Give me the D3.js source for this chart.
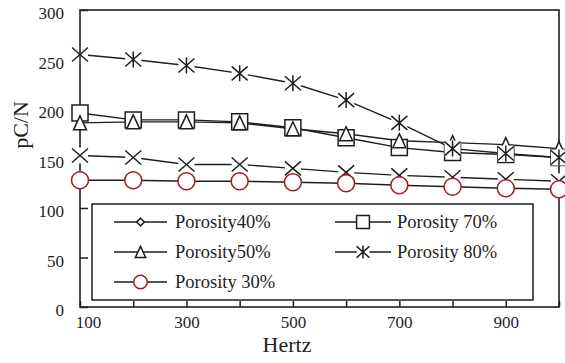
<!DOCTYPE html>
<html>
<head>
<meta charset="utf-8">
<script src="https://cdn.jsdelivr.net/npm/d3@7"></script>
<style>
  html, body { margin: 0; padding: 0; background: #fff; }
  svg { display: block; }
  svg text { font-family: "Liberation Serif", "Times New Roman", serif; }
</style>
</head>
<body>
<svg id="chart"></svg>
<script>
// data
const hertz = [100, 200, 300, 400, 500, 600, 700, 800, 900, 1000];
const porosity40 = [153, 151, 144, 144, 140, 136, 133, 131, 129, 127];
const porosity50 = [186, 187, 187, 186, 180, 175, 168, 166, 164, 160];
const porosity30 = [128, 128, 127, 127, 126, 125, 123, 121.5, 120, 119];
const porosity70 = [196, 189, 189, 187, 181, 171, 161, 156, 154, 151];
const porosity80 = [255, 250, 244, 236, 226, 209, 186, 160, 155, 151];
const xTickLabels = [100, 300, 500, 700, 900];
const yTickValues = [0, 50, 100, 150, 200, 250, 300];

const ink = "#1e1e1e";
const red = "#a31c1e";
const serif = "'Liberation Serif', 'Times New Roman', serif";

let svg = d3.select("#chart").attr("width", 565).attr("height", 363);

let x = d3.scaleLinear().domain([100, 1000]).range([80, 559]);
let y = d3.scaleLinear().domain([0, 300]).range([307, 10]);

// marker shapes, s = scale
function markerPath(kind, s) {
    let p = d3.path();
    if (kind == "x" || kind == "asterisk") {
        let w = 8 * s, h = 7 * s;
        p.moveTo(-w, -h); p.lineTo(w, h);
        p.moveTo(-w, h); p.lineTo(w, -h);
        if (kind == "asterisk") { p.moveTo(0, -8 * s); p.lineTo(0, 8 * s); }
    } else if (kind == "square") {
        let h = 8 * s;
        p.rect(-h, -h, 2 * h, 2 * h);
    } else if (kind == "triangle") {
        let w = 6.5 * s, h = 7 * s;
        p.moveTo(0, -h); p.lineTo(w, h); p.lineTo(-w, h); p.closePath();
    } else if (kind == "diamond") {
        let h = 4.8 * s;
        p.moveTo(0, -h); p.lineTo(h, 0); p.lineTo(0, h); p.lineTo(-h, 0); p.closePath();
    } else if (kind == "circle") {
        p.arc(0, 0, 8.5 * s, 0, 2 * Math.PI);
    }
    return p.toString();
}

function drawMarker(g, kind, cx, cy, s, color) {
    let m = g.append("g").attr("transform", "translate(" + cx + "," + cy + ")");
    if (kind == "x" || kind == "asterisk") {
        // white backing behind open markers
        m.append("rect")
            .attr("x", -8 * s).attr("y", -8 * s)
            .attr("width", 16 * s).attr("height", 16 * s)
            .attr("fill", "#fff");
    }
    m.append("path")
        .attr("d", markerPath(kind, s))
        .attr("fill", (kind == "x" || kind == "asterisk") ? "none" : "#fff")
        .attr("stroke", color)
        .attr("stroke-width", 1.5);
}

let series = [
    {name: "Porosity40%", values: porosity40, marker: "x", legendMarker: "diamond", color: ink},
    {name: "Porosity 70%", values: porosity70, marker: "square", legendMarker: "square", color: ink},
    {name: "Porosity50%", values: porosity50, marker: "triangle", legendMarker: "triangle", color: ink},
    {name: "Porosity 80%", values: porosity80, marker: "asterisk", legendMarker: "asterisk", color: ink},
    {name: "Porosity 30%", values: porosity30, marker: "circle", legendMarker: "circle", color: red}
];

// axes
let yAxis = d3.axisLeft(y)
    .tickValues(yTickValues)
    .tickSizeInner(-8)
    .tickSizeOuter(0)
    .tickPadding(16);
let gy = svg.append("g").attr("transform", "translate(80,0)").call(yAxis);

let xAxis = d3.axisBottom(x)
    .tickValues(hertz)
    .tickSizeInner(-6)
    .tickSizeOuter(0)
    .tickPadding(9)
    .tickFormat(d => xTickLabels.includes(d) ? d : "");
let gx = svg.append("g").attr("transform", "translate(0,307)").call(xAxis);

for (let g of [gx, gy]) {
    g.attr("font-family", serif).attr("font-size", 17);
    g.select(".domain").remove();
    g.selectAll(".tick line").attr("stroke", ink).attr("stroke-width", 1.5);
    g.selectAll(".tick text").attr("fill", ink);
}
gy.selectAll(".tick text").attr("dy", "0.5em");
// first label sits a little right of its tick in the picture
gx.selectAll(".tick text").filter(d => d == 100).attr("dx", 8);

// frame
svg.append("rect")
    .attr("x", 80).attr("y", 10)
    .attr("width", 559 - 80).attr("height", 307 - 10)
    .attr("fill", "none")
    .attr("stroke", ink)
    .attr("stroke-width", 1.6);

// axis titles
svg.append("text")
    .attr("x", 287).attr("y", 352)
    .attr("text-anchor", "middle")
    .attr("fill", ink)
    .attr("font-family", serif)
    .attr("font-size", 22)
    .text("Hertz");
svg.append("text")
    .attr("transform", "translate(28,125) rotate(-90)")
    .attr("text-anchor", "middle")
    .attr("fill", ink)
    .attr("font-family", serif)
    .attr("font-size", 22)
    .text("pC/N");

// legend
svg.append("rect")
    .attr("x", 92).attr("y", 204)
    .attr("width", 533 - 92).attr("height", 300 - 204)
    .attr("fill", "#fff")
    .attr("stroke", ink)
    .attr("stroke-width", 1.5);

let legendSlots = {
    "Porosity40%": [0, 0], "Porosity50%": [0, 1], "Porosity 30%": [0, 2],
    "Porosity 70%": [1, 0], "Porosity 80%": [1, 1]
};
let colX = [{x0: 114, x1: 167, tx: 175}, {x0: 335, x1: 391, tx: 397}];
let rowY = [222, 252, 282];
let lg = svg.append("g");
for (let s of series) {
    let slot = legendSlots[s.name];
    let c = colX[slot[0]], ly = rowY[slot[1]];
    lg.append("line")
        .attr("x1", c.x0).attr("x2", c.x1)
        .attr("y1", ly).attr("y2", ly)
        .attr("stroke", ink).attr("stroke-width", 1.5);
    drawMarker(lg, s.legendMarker, (c.x0 + c.x1) / 2, ly, 0.8, s.color);
    lg.append("text")
        .attr("x", c.tx).attr("y", ly + 6)
        .attr("fill", ink)
        .attr("font-family", serif)
        .attr("font-size", 18.5)
        .text(s.name);
}

// lines
let line = d3.line()
    .x((d, i) => x(hertz[i]))
    .y(d => y(d));

for (let s of series) {
    svg.append("path")
        .datum(s.values)
        .attr("fill", "none")
        .attr("stroke", ink)
        .attr("stroke-width", 1.4)
        .attr("d", line);
}

// markers
for (let s of series) {
    let mg = svg.append("g");
    s.values.forEach((v, i) => {
        drawMarker(mg, s.marker, x(hertz[i]), y(v), 1, s.color);
    });
}
</script>
</body>
</html>
